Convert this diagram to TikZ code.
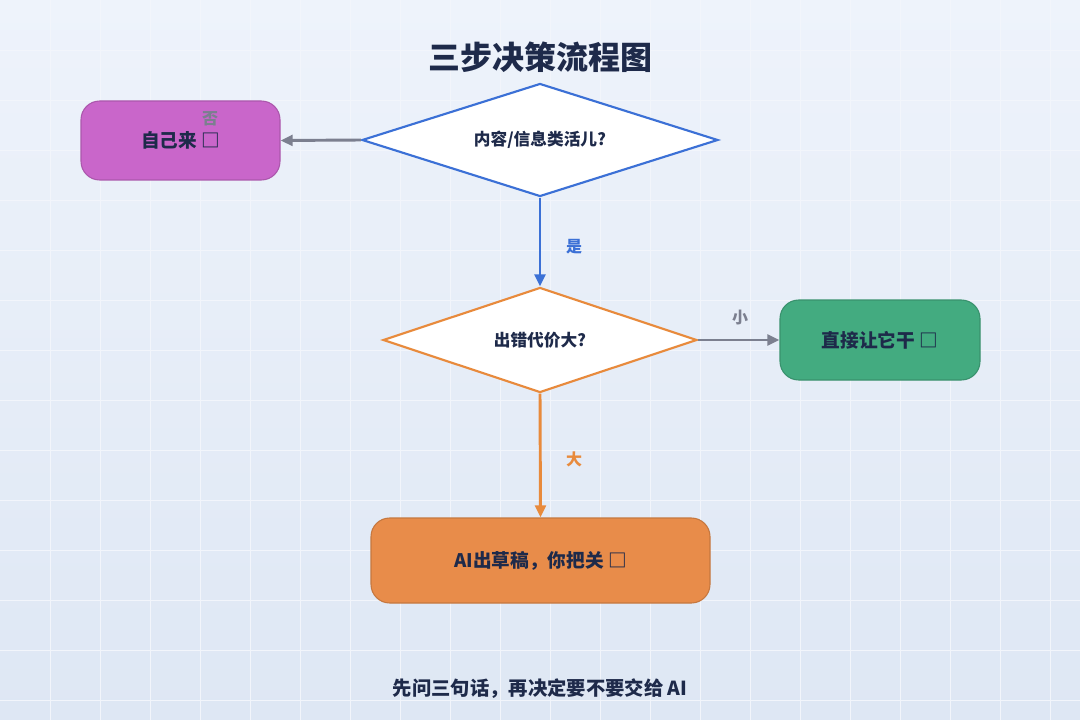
\documentclass[tikz,border=0pt]{standalone}
\usepackage{fontspec}
\setmainfont{Noto Sans CJK SC}
\usetikzlibrary{shapes.geometric,arrows.meta}
\definecolor{ink}{HTML}{1E2A4A}
\definecolor{bgA}{HTML}{EEF3FB}
\definecolor{bgB}{HTML}{DEE7F4}
\definecolor{blu}{HTML}{3B70D6}
\definecolor{org}{HTML}{E88A3C}
\definecolor{gry}{HTML}{7B7F8F}
\definecolor{mag}{HTML}{C966CA}
\definecolor{grn}{HTML}{43AB80}
\definecolor{orb}{HTML}{E88C4A}
\begin{document}
\begin{tikzpicture}[x=0.75pt,y=-0.75pt,
 dia/.style={diamond,aspect=3.15,fill=white,line width=1.6pt,inner sep=0pt,font=\bfseries\fontsize{12.5}{14}\selectfont,text=ink},
 box/.style={rounded corners=14pt,line width=0.8pt,font=\bfseries\fontsize{14}{16}\selectfont,text=ink},
 arr/.style={line width=2.2pt,-{Triangle[length=9pt,width=8pt]}},
 lab/.style={font=\bfseries\fontsize{12}{14}\selectfont}]
\shade[top color=bgA,bottom color=bgB] (0,0) rectangle (1080,720);
\useasboundingbox (0,0) rectangle (1080,720);
\foreach \i in {50,100,...,1050} \draw[white!60!bgB,line width=0.5pt] (\i,0)--(\i,720);
\foreach \i in {50,100,...,700} \draw[white!60!bgB,line width=0.5pt] (0,\i)--(1080,\i);
\node[font=\bfseries\fontsize{24}{28}\selectfont,text=ink] (t) at (540,57) {三步决策流程图};
\node[dia,draw=blu,minimum width=356*0.75pt,minimum height=113*0.75pt] (d1) at (540,140) {内容/信息类活儿?};
\node[box,fill=mag,draw=mag!85!black,minimum width=199*0.75pt,minimum height=79*0.75pt] (b1) at (180.5,140.5) {自己来 □};
\node[dia,draw=org,minimum width=314*0.75pt,minimum height=105*0.75pt] (d2) at (540,340) {出错代价大?};
\node[box,fill=grn,draw=grn!85!black,minimum width=200*0.75pt,minimum height=80*0.75pt] (b2) at (880,340) {直接让它干 □};
\node[box,fill=orb,draw=orb!85!black,minimum width=339*0.75pt,minimum height=85*0.75pt] (b3) at (540.5,560.5) {AI出草稿，你把关 □};
\draw[arr,gry] (d1.west) -- (b1.east);
\node[lab,text=gry] (l1) at (210,119) {否};
\draw[arr,blu] (d1.south) -- (d2.north);
\node[lab,text=blu] (l2) at (574,247) {是};
\draw[arr,gry] (d2.east) -- (b2.west);
\node[lab,text=gry] (l3) at (740,318) {小};
\draw[arr,org] (d2.south) -- (b3.north);
\node[lab,text=org] (l4) at (574,459) {大};
\node[font=\bfseries\fontsize{14.5}{17}\selectfont,text=ink] (f) at (540,689) {先问三句话，再决定要不要交给 AI};
\end{tikzpicture}
\end{document}
